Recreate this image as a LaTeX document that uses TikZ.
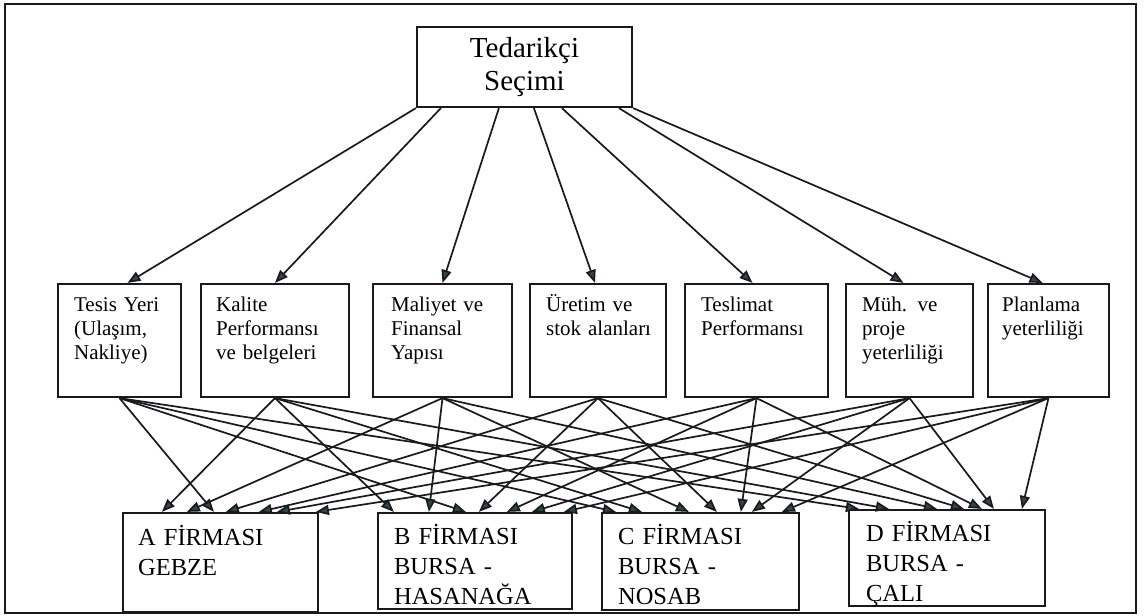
\documentclass[tikz,border=0pt]{standalone}
\usepackage{fontspec}
\setmainfont{Liberation Serif}
\usetikzlibrary{arrows.meta,calc}

\begin{document}
\begin{tikzpicture}[x=1pt,y=-1pt,
  box/.style={draw=linecolor,line width=2.2pt,inner sep=0pt},
  crittext/.style={anchor=base west,inner sep=0pt,text width=110pt,align=left,font=\fontsize{21}{24}\selectfont},
  firmtext/.style={anchor=base west,inner sep=0pt,text width=170pt,align=left,font=\fontsize{24.5}{30}\selectfont},
  link/.style={draw=linecolor,line width=1.7pt,-{Triangle[length=13pt,width=10pt,fill=tipcolor]}}]
\definecolor{linecolor}{RGB}{25,25,30}
\definecolor{tipcolor}{RGB}{45,72,72}
\definecolor{background}{RGB}{255,255,255}
\useasboundingbox [fill=background] (0,0) rectangle (1144,616);
\draw [line width=2.2pt,linecolor] (5,4) rectangle (1136,613);
\node [box,minimum width=215pt,minimum height=80pt,align=center,font=\fontsize{29}{33}\selectfont] (secim) at (524.5,67) {Tedarikçi\\Seçimi};
\node [box,minimum width=123pt,minimum height=113pt] (tesis) at (119.5,340.5) {};
\node [box,minimum width=148pt,minimum height=113pt] (kalite) at (275,340.5) {};
\node [box,minimum width=139pt,minimum height=113pt] (maliyet) at (442.5,340.5) {};
\node [box,minimum width=136pt,minimum height=113pt] (uretim) at (598,340.5) {};
\node [box,minimum width=143pt,minimum height=113pt] (teslimat) at (756.5,340.5) {};
\node [box,minimum width=127pt,minimum height=113pt] (muh) at (909.5,340.5) {};
\node [box,minimum width=121pt,minimum height=113pt] (planlama) at (1048.5,340.5) {};
\node [crittext] (tesist) at ($(tesis.north west)+(17,29)$) {Tesis Yeri\\(Ulaşım,\\Nakliye)};
\node [crittext] (kalitet) at ($(kalite.north west)+(16,29)$) {Kalite\\Performansı\\ve belgeleri};
\node [crittext] (maliyett) at ($(maliyet.north west)+(19,29)$) {Maliyet ve\\Finansal\\Yapısı};
\node [crittext] (uretimt) at ($(uretim.north west)+(17,29)$) {Üretim ve\\stok alanları};
\node [crittext] (teslimatt) at ($(teslimat.north west)+(17,29)$) {Teslimat\\Performansı};
\node [crittext] (muht) at ($(muh.north west)+(17,29)$) {Müh. ve\\proje\\yeterliliği};
\node [crittext] (planlamat) at ($(planlama.north west)+(15,29)$) {Planlama\\yeterliliği};
\node [box,minimum width=195pt,minimum height=99pt] (afirma) at (220.5,562.5) {};
\node [box,minimum width=194pt,minimum height=96pt] (bfirma) at (475,561) {};
\node [box,minimum width=197pt,minimum height=97pt] (cfirma) at (700.5,561.5) {};
\node [box,minimum width=196pt,minimum height=96pt] (dfirma) at (947,558) {};
\node [firmtext] (afirmat) at ($(afirma.north west)+(16,34)$) {A FİRMASI\\GEBZE};
\node [firmtext] (bfirmat) at ($(bfirma.north west)+(17,33)$) {B FİRMASI\\BURSA -\\HASANAĞA};
\node [firmtext] (cfirmat) at ($(cfirma.north west)+(17,33)$) {C FİRMASI\\BURSA -\\NOSAB};
\node [firmtext] (dfirmat) at ($(dfirma.north west)+(18,33)$) {D FİRMASI\\BURSA -\\ÇALI};
\draw [link] (secim.south west) -- ([xshift=8pt]tesis.north);
\draw [link] ([xshift=25pt]secim.south west) -- (kalite.north);
\draw [link] ([xshift=83pt]secim.south west) -- (maliyet.north);
\draw [link] ([xshift=118pt]secim.south west) -- ([xshift=-3pt]uretim.north);
\draw [link] ([xshift=146pt]secim.south west) -- ([xshift=-4pt]teslimat.north);
\draw [link] ([xshift=203pt]secim.south west) -- ([xshift=-6pt]muh.north);
\draw [link] (secim.south east) -- ([xshift=-6pt]planlama.north);
\draw [link] (tesis.south) -- ([xshift=92pt]afirma.north west);
\draw [link] (tesis.south) -- ([xshift=89pt]bfirma.north west);
\draw [link] (tesis.south) -- ([xshift=15pt]cfirma.north west);
\draw [link] (tesis.south) -- ([xshift=11pt]dfirma.north west);
\draw [link] (kalite.south) -- ([xshift=40pt]afirma.north west);
\draw [link] (kalite.south) -- ([xshift=17pt]bfirma.north west);
\draw [link] (kalite.south) -- ([xshift=41pt]cfirma.north west);
\draw [link] (kalite.south) -- ([xshift=41pt]dfirma.north west);
\draw [link] (maliyet.south) -- ([xshift=65pt]afirma.north west);
\draw [link] (maliyet.south) -- ([xshift=52pt]bfirma.north west);
\draw [link] (maliyet.south) -- ([xshift=88pt]cfirma.north west);
\draw [link] (maliyet.south) -- ([xshift=89pt]dfirma.north west);
\draw [link] (uretim.south) -- ([xshift=104pt]afirma.north west);
\draw [link] (uretim.south) -- ([xshift=102pt]bfirma.north west);
\draw [link] (uretim.south) -- ([xshift=116pt]cfirma.north west);
\draw [link] (uretim.south) -- ([xshift=116pt]dfirma.north west);
\draw [link] (teslimat.south) -- ([xshift=137pt]afirma.north west);
\draw [link] (teslimat.south) -- ([xshift=130pt]bfirma.north west);
\draw [link] (teslimat.south) -- ([xshift=140pt]cfirma.north west);
\draw [link] (teslimat.south) -- ([xshift=134pt]dfirma.north west);
\draw [link] (muh.south) -- ([xshift=155pt]afirma.north west);
\draw [link] (muh.south) -- ([xshift=155pt]bfirma.north west);
\draw [link] (muh.south) -- ([xshift=151pt]cfirma.north west);
\draw [link] (muh.south) -- ([xshift=146pt]dfirma.north west);
\draw [link] (planlama.south) -- ([xshift=194pt]afirma.north west);
\draw [link] (planlama.south) -- ([xshift=187pt]bfirma.north west);
\draw [link] (planlama.south) -- ([xshift=181pt]cfirma.north west);
\draw [link] (planlama.south) -- ([xshift=174pt]dfirma.north west);
\end{tikzpicture}
\end{document}
